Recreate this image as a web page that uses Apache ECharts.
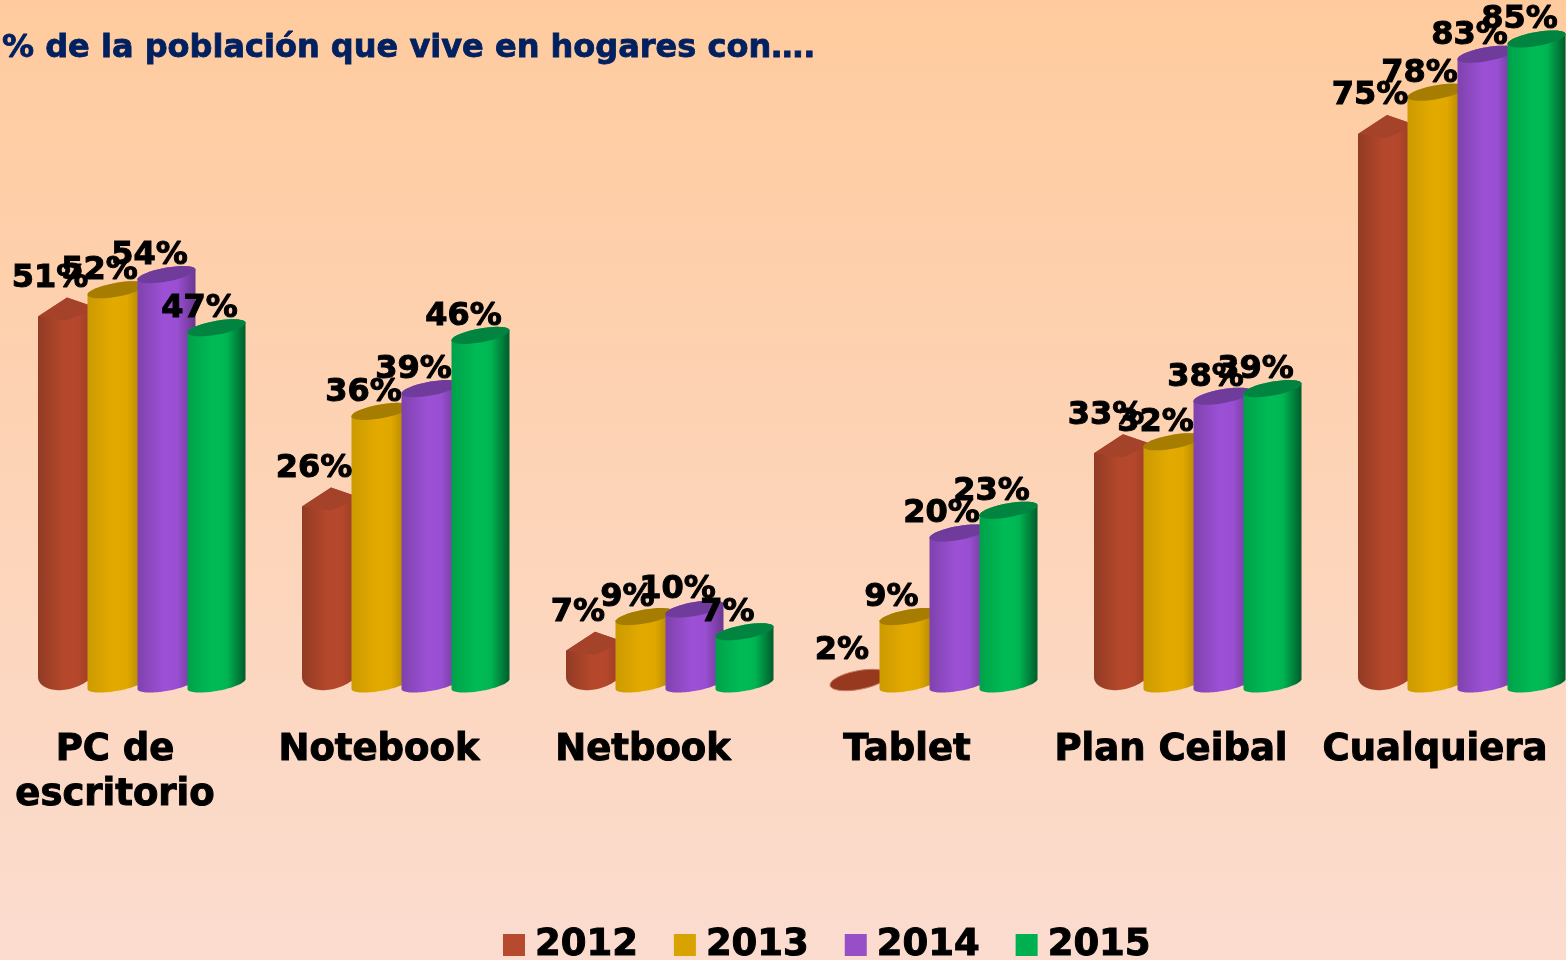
<!DOCTYPE html>
<html><head><meta charset="utf-8">
<style>html,body{margin:0;padding:0;width:1566px;height:960px;overflow:hidden}#c{width:1566px;height:960px}</style>
<script src="https://cdn.jsdelivr.net/npm/echarts@6/dist/echarts.min.js"></script>
</head><body><div id="c"></div>
<script>
const categories = ['PC de\nescritorio','Notebook','Netbook','Tablet','Plan Ceibal','Cualquiera'];
const years = ['2012','2013','2014','2015'];
const values2012 = [51,26,7,2,33,75];
const values2013 = [52,36,9,9,32,78];
const values2014 = [54,39,10,20,38,83];
const values2015 = [47,46,7,23,39,85];
const title = '% de la población que vive en hogares con….';

const allValues = [values2012,values2013,values2014,values2015];
const legendColors = ['#B7492F','#D8A200','#964FC7','#00B050'];
const bodyStops = [
  ['#923B24','#B5482C','#B5482C','#923B24'],
  ['#CC9A00','#E3AA00','#E0A800','#A87E00'],
  ['#7F42AD','#9C50D6','#9A4FD2','#6A3790'],
  ['#00A24A','#00BC56','#00B552','#005C2C']
];
const capColors = ['#96391F','#A67D00','#6F3C9C','#00843F'];
const offsets = [-77,-27.5,22.5,72.5];
const W = 58, A = 29, B = 7, S = 0.17;
const FONT = '"DejaVu Sans", Verdana, sans-serif';

function ell(cx, cy, t, b){ return [cx + A*Math.cos(t), cy - A*Math.cos(t)*S - b*Math.sin(t)]; }
function arc(cx, cy, from, to, b){
  const out = [], n = 40;
  for (let i=0;i<=n;i++) out.push(ell(cx,cy,from+(to-from)*i/n,b));
  return out;
}
function grad(st){
  return {type:'linear',x:0,y:0,x2:1,y2:0,colorStops:[
    {offset:0,color:st[0]},{offset:0.45,color:st[1]},{offset:0.68,color:st[2]},{offset:1,color:st[3]}]};
}
function makeRender(si){
  return function(params, api){
    const p = api.coord([api.value(0), api.value(1)]);
    const base = api.coord([api.value(0), 0]);
    const cx = p[0] + offsets[si] + W/2;
    const top = p[1], bot = base[1] - 1;
    const kids = [];
    if (si === 0){
      const bb = bot - 12;
      const shoulder = top + 19;
      if (shoulder >= bb){
        kids.push({type:'polygon',shape:{points:arc(cx,bot-4,0,Math.PI*2,9.5)},
          style:{fill:capColors[0],stroke:'#C9785F',lineWidth:1}});
      } else {
        const body = [[cx-A,shoulder]].concat(arc(cx,bb,Math.PI,Math.PI*2,17.5)).concat([[cx+A,top+10]]).concat([[cx,top]]);
        kids.push({type:'polygon',shape:{points:body},style:{fill:grad(bodyStops[0])}});
        kids.push({type:'polygon',shape:{points:[[cx-A,shoulder],[cx,top],[cx+A,top+10],[cx,top+23]]},style:{fill:'#A4432A'}});
      }
    } else {
      const body = arc(cx,top,0,Math.PI,B).concat(arc(cx,bot,Math.PI,Math.PI*2,B));
      kids.push({type:'polygon',shape:{points:body},style:{fill:grad(bodyStops[si])}});
      kids.push({type:'polygon',shape:{points:arc(cx,top,0,Math.PI*2,B)},style:{fill:capColors[si]}});
    }
    kids.push({type:'text',z2:100,style:{text:api.value(1)+'%',x:cx-17,y:top-19,align:'center',verticalAlign:'middle',
      font:'bold 32px '+FONT,fill:'#000',stroke:'#000',lineWidth:1}});
    return {type:'group',children:kids};
  };
}
const chart = echarts.init(document.getElementById('c'));
chart.setOption({
  animation:false,
  backgroundColor:{type:'linear',x:0,y:0,x2:0,y2:1,colorStops:[{offset:0,color:'#FFCB9E'},{offset:1,color:'#FBDCCF'}]},
  title:{text:title,left:2,top:33,padding:0,textStyle:{fontFamily:FONT,fontWeight:'bold',fontSize:32,color:'#002060',textBorderColor:'#002060',textBorderWidth:0.8}},
  legend:{left:503,top:926,padding:0,itemWidth:22,itemHeight:22,itemGap:35.4,icon:'rect',selectedMode:false,
    data:years,textStyle:{fontFamily:FONT,fontWeight:'bold',fontSize:37,color:'#000',textBorderColor:'#000',textBorderWidth:1,padding:[4,0,0,5]}},
  grid:{left:-17,top:1,width:1584,height:684,outerBoundsMode:'none'},
  xAxis:{type:'category',data:categories,axisLine:{show:false},axisTick:{show:false},
    axisLabel:{margin:43,interval:0,fontFamily:FONT,fontWeight:'bold',fontSize:37,lineHeight:45,color:'#000',textBorderColor:'#000',textBorderWidth:1}},
  yAxis:{type:'value',min:0,max:90,show:false,splitLine:{show:false}},
  series:years.map((y,si)=>({
    name:y,type:'custom',coordinateSystem:'cartesian2d',itemStyle:{color:legendColors[si]},
    encode:{x:0,y:1},
    data:allValues[si].map((v,i)=>[i,v]),
    renderItem:makeRender(si),clip:false
  }))
});
</script></body></html>
